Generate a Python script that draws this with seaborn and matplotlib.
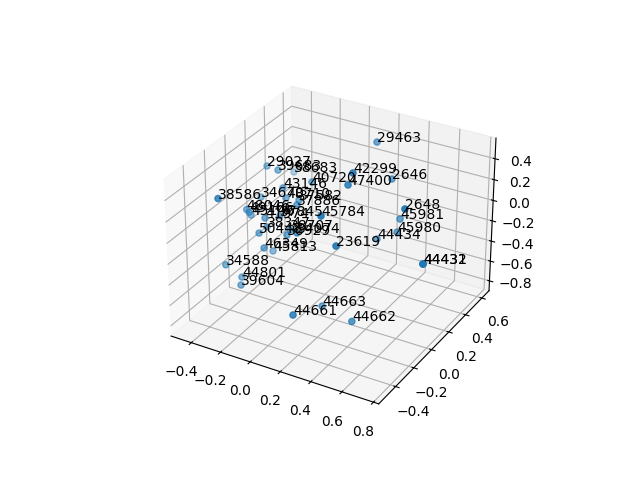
import matplotlib
matplotlib.use('Agg')
import matplotlib.pyplot as plt
import seaborn as sns

labels = ["29463","29027","39683","38683","42299","40720","43146","47400","2646","38586",
          "34670","48710","37582","37886","2648","45981","45980","44434","45784","37845",
          "23619","44431","44432","48046","49166","45146","41974","38347","50448","38707",
          "36929","34074","46349","45813","34588","44801","39604","44663","44661","44662"]
xs = [0.107,-0.528,-0.417,-0.503,0.188,-0.214,-0.351,0.156,0.240,-0.493,
      -0.507,-0.331,-0.240,-0.222,0.529,0.356,0.338,0.233,0.133,-0.308,
      0.232,0.736,0.736,-0.507,-0.525,-0.512,-0.379,-0.401,-0.389,-0.206,
      -0.228,-0.125,-0.322,-0.361,-0.525,-0.448,-0.421,0.075,0.071,0.308]
ys = [0.60,0.40,0.35,0.65,0.20,0.40,0.30,0.20,0.55,-0.15,
      0.30,0.30,0.30,0.25,0.20,0.45,0.45,0.40,-0.05,0.20,
      -0.05,0.05,0.05,0.15,0.20,0.20,0.15,0.20,0.10,0.15,
      0.15,0.10,0.05,0.20,-0.05,0.00,-0.05,0.05,-0.25,0.00]
zs = [0.349,0.016,0.055,-0.215,0.370,-0.020,-0.059,0.244,0.077,0.117,
      -0.211,-0.150,-0.134,-0.138,0.165,-0.193,-0.329,-0.403,0.128,-0.243,
      -0.117,-0.153,-0.153,-0.222,-0.295,-0.317,-0.254,-0.391,-0.369,-0.302,
      -0.360,-0.258,-0.450,-0.616,-0.625,-0.756,-0.784,-0.859,-0.694,-0.864]

colour = sns.color_palette('tab10')[0]

fig = plt.figure(figsize=(6.4, 4.8), dpi=100)
ax = fig.add_subplot(projection='3d')
ax.scatter(xs, ys, zs, color=colour)
for x, y, z, name in zip(xs, ys, zs, labels):
    ax.text(x, y, z, name)
ax.set_xlim(-0.54, 0.833)
ax.set_ylim(-0.58, 0.69)
ax.set_zlim(-0.9, 0.595)
fig.savefig('out.png', dpi=100)
